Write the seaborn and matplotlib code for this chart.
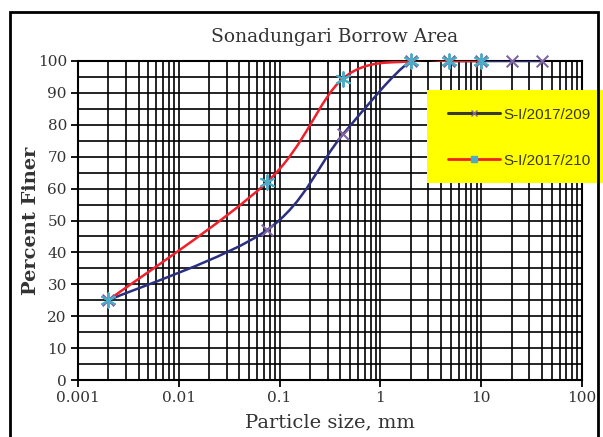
import numpy as np
import pandas as pd
import seaborn as sns
import matplotlib
matplotlib.use("Agg")
import matplotlib.pyplot as plt
from matplotlib.path import Path
from matplotlib.patches import PathPatch, Rectangle
from matplotlib.lines import Line2D
from matplotlib.ticker import FixedLocator, FixedFormatter, LogLocator, MultipleLocator

# ---- data ----
size_209 = [0.002, 0.075, 0.425, 2, 4.75, 10, 20, 40]
finer_209 = [25, 47, 77, 100, 100, 100, 100, 100]
size_210 = [0.002, 0.075, 0.425, 2, 4.75, 10]
finer_210 = [25, 62, 94.5, 100, 100, 100]
labels = ["S-I/2017/209", "S-I/2017/210"]
xtick_vals = [0.001, 0.01, 0.1, 1, 10, 100]
xtick_labels = ["0.001", "0.01", "0.1", "1", "10", "100"]
ytick_vals = list(range(0, 101, 10))

sns.set_style("white")
plt.rcParams["font.family"] = ["DejaVu Serif"]

fig = plt.figure(figsize=(6.03, 4.37), dpi=100)
ax = fig.add_axes([78 / 603, 1 - 380 / 437, (582 - 78) / 603, (380 - 61) / 437])


def smooth_path(xs, ys):
    """Excel-like smoothed line: Catmull-Rom Bezier in log-x space."""
    u = np.log10(np.asarray(xs, float))
    v = np.asarray(ys, float)
    P = np.column_stack([u, v])
    n = len(P)
    verts = [P[0]]
    codes = [Path.MOVETO]
    for i in range(n - 1):
        p0 = P[i - 1] if i > 0 else P[i]
        p1 = P[i]
        p2 = P[i + 1]
        p3 = P[i + 2] if i + 2 < n else P[i + 1]
        c1 = p1 + (p2 - p0) / 6.0
        c2 = p2 - (p3 - p1) / 6.0
        verts += [c1, c2, p2]
        codes += [Path.CURVE4] * 3
    verts = np.array(verts)
    verts[:, 0] = 10 ** verts[:, 0]
    return Path(verts, codes)


col_209 = "#2b2f7f"
col_210 = "#f0202a"
mk_209 = "#8064a2"
mk_210 = "#4bacc6"

ax.add_patch(PathPatch(smooth_path(size_209, finer_209), fill=False,
                       edgecolor=col_209, lw=1.8, zorder=3))
ax.add_patch(PathPatch(smooth_path(size_210, finer_210), fill=False,
                       edgecolor=col_210, lw=1.8, zorder=3))

df209 = pd.DataFrame({"size": size_209, "finer": finer_209})
df210 = pd.DataFrame({"size": size_210, "finer": finer_210})
sns.scatterplot(data=df209, x="size", y="finer", marker="x", s=70,
                color=mk_209, linewidth=1.5, ax=ax, zorder=4, clip_on=False)
sns.scatterplot(data=df210, x="size", y="finer", marker=(6, 2, 0), s=110,
                color=mk_210, linewidth=1.4, ax=ax, zorder=5, clip_on=False)

ax.set_xscale("log")
ax.set_xlim(0.001, 100)
ax.set_ylim(0, 100)

ax.xaxis.set_major_locator(FixedLocator(xtick_vals))
ax.xaxis.set_major_formatter(FixedFormatter(xtick_labels))
ax.xaxis.set_minor_locator(LogLocator(base=10, subs=np.arange(2, 10)))
ax.yaxis.set_major_locator(FixedLocator(ytick_vals))
ax.yaxis.set_minor_locator(MultipleLocator(5))

ax.grid(True, which="both", color="black", lw=1.2)
ax.set_axisbelow(True)
ax.tick_params(which="major", direction="out", length=5, width=1.3,
               colors="black", labelsize=11, labelcolor="#333333", pad=3,
               bottom=True, left=True)
ax.tick_params(which="minor", length=0)
for s in ax.spines.values():
    s.set_color("black")
    s.set_linewidth(1.5)

ax.set_xlabel("Particle size, mm", fontsize=14, color="#333333", labelpad=6)
ax.set_ylabel("Percent Finer", fontsize=14, color="#333333", fontweight="bold",
              labelpad=-2)
fig.text(335 / 603, 1 - 37 / 437, "Sonadungari Borrow Area", ha="center",
         va="center", fontsize=13.5, color="#333333")

# outer frame
fig.patches.append(Rectangle((10 / 603, -0.1), (598 - 10) / 603, 1.1 - 12 / 437,
                             transform=fig.transFigure, fill=False,
                             edgecolor="black", lw=2, zorder=10))

# legend box (yellow)
fig.patches.append(Rectangle((427 / 603, 1 - 183 / 437), 0.4, (183 - 90) / 437,
                             transform=fig.transFigure, facecolor="#ffff00",
                             edgecolor="none", zorder=8))
handles = [
    Line2D([], [], color="#3a3a2a", lw=2.2, marker="x", markersize=4,
           markeredgecolor=mk_209),
    Line2D([], [], color=col_210, lw=2, marker="s", markersize=4,
           markerfacecolor=mk_210, markeredgecolor=mk_210),
]
leg = fig.legend(handles, labels, loc="upper left",
                 bbox_to_anchor=(440 / 603, 1 - 100 / 437),
                 frameon=False, handlelength=3.4, handletextpad=0.25,
                 labelspacing=2.1, borderpad=0,
                 prop={"family": "Liberation Sans", "size": 11})
for t in leg.get_texts():
    t.set_color("#3a3a1a")
leg.set_zorder(9)

fig.savefig("out.png", dpi=100)
